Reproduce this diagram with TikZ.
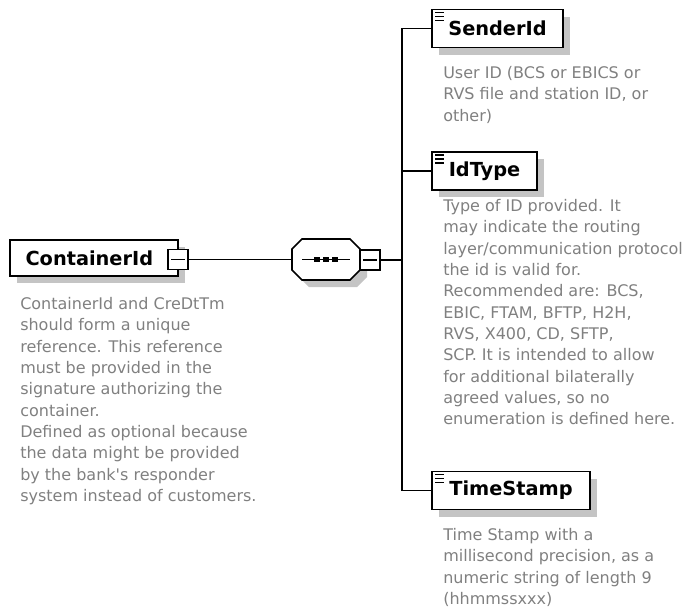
\documentclass[tikz,border=0pt]{standalone}
\usepackage{fontspec}
\setmainfont{DejaVu Sans}
\usepackage{tikz}
\usetikzlibrary{shadows}

\definecolor{descgray}{RGB}{128,128,128}
\definecolor{shadowgray}{RGB}{196,196,196}

\begin{document}
\begin{tikzpicture}[x=0.75pt,y=-0.75pt,
  boxshadow/.style={drop shadow={shadow xshift=5.25pt, shadow yshift=-5.25pt, fill=shadowgray, opacity=1}},
  elem/.style={draw, line width=1.2pt, fill=white, inner sep=0pt, minimum height=28.5pt,
    font=\fontsize{14.5}{17}\selectfont\bfseries, boxshadow},
  leaf/.style={elem, path picture={
      \foreach \k in {0,1,2}
        \draw[line width=1.1pt] ([shift={(2.5pt,-2.4pt-\k*3pt)}]path picture bounding box.north west) -- +(6.5pt,0);}},
  minusbox/.style={draw, line width=1pt, fill=white, minimum size=15pt, inner sep=0pt,
    path picture={\draw[line width=1pt] ([xshift=2.5pt]path picture bounding box.west) -- ([xshift=-2.5pt]path picture bounding box.east);}},
  seqbox/.style={inner sep=0pt, minimum width=51pt, minimum height=30.75pt},
  wire/.style={line width=1pt},
  desc/.style={anchor=north west, align=left, inner sep=0pt, text=descgray, font=\fontsize{12}{16}\selectfont}]
  \useasboundingbox (0,0) rectangle (685,612);

  % root element and its sequence
  \node[elem, minimum width=126pt, minimum height=27pt] (cid) at (94,258) {ContainerId\hspace*{7pt}};
  \node[minusbox] (cmin) at (178,259.5) {};
  \node[seqbox] (seq) at (326,259.5) {};
  \fill[shadowgray, shift={(seq.center)}, shift={(7,7)}] (-24,-20.5) -- (24,-20.5) -- (34,-10.5) -- (34,10.5)
    -- (24,20.5) -- (-24,20.5) -- (-34,10.5) -- (-34,-10.5) -- cycle;
  \filldraw[fill=white, line width=1.2pt, shift={(seq.center)}] (-24,-20.5) -- (24,-20.5) -- (34,-10.5) -- (34,10.5)
    -- (24,20.5) -- (-24,20.5) -- (-34,10.5) -- (-34,-10.5) -- cycle;
  \draw[wire] ([xshift=-18pt]seq.center) -- ([xshift=18pt]seq.center);
  \foreach \dx in {-6.75,0,6.75}
    \fill ([xshift=\dx pt]seq.center) ++(-2.2pt,-1.8pt) rectangle ++(4.4pt,3.6pt);
  \node[minusbox] (smin) at (370,260) {};
  \coordinate (bus) at (402,260);

  % child elements
  \node[leaf, minimum width=98.25pt] (sender) at (497.5,28.5) {SenderId};
  \node[leaf, minimum width=78.75pt] (idtype) at (484.5,171) {IdType};
  \node[leaf, minimum width=118.5pt] (tstamp) at (511,490.5) {TimeStamp};

  \draw[wire] (cmin.east) -- (seq.west);
  \draw[wire] (smin.east) -- (bus);
  \draw[wire] (sender.west) -| (bus) |- (tstamp.west);
  \draw[wire] (bus) |- (idtype.west);

  % annotations
  \node[desc] (ciddesc) at (20,297) {ContainerId and CreDtTm\\should form a unique\\reference. This reference\\must be provided in the\\signature authorizing the\\container.\\Defined as optional because\\the data might be provided\\by the bank\textquotesingle s responder\\system instead of customers.};
  \node[desc] (senderdesc) at (443,66) {User ID (BCS or EBICS or\\RVS file and station ID, or\\other)};
  \node[desc] (idtypedesc) at (443,199) {Type of ID provided. It\\may indicate the routing\\layer/communication protocol\\the id is valid for.\\Recommended are: BCS,\\EBIC, FTAM, BFTP, H2H,\\RVS, X400, CD, SFTP,\\SCP. It is intended to allow\\for additional bilaterally\\agreed values, so no\\enumeration is defined here.};
  \node[desc] (tstampdesc) at (443,528) {Time Stamp with a\\millisecond precision, as a\\numeric string of length 9\\(hhmmssxxx)};
\end{tikzpicture}
\end{document}
